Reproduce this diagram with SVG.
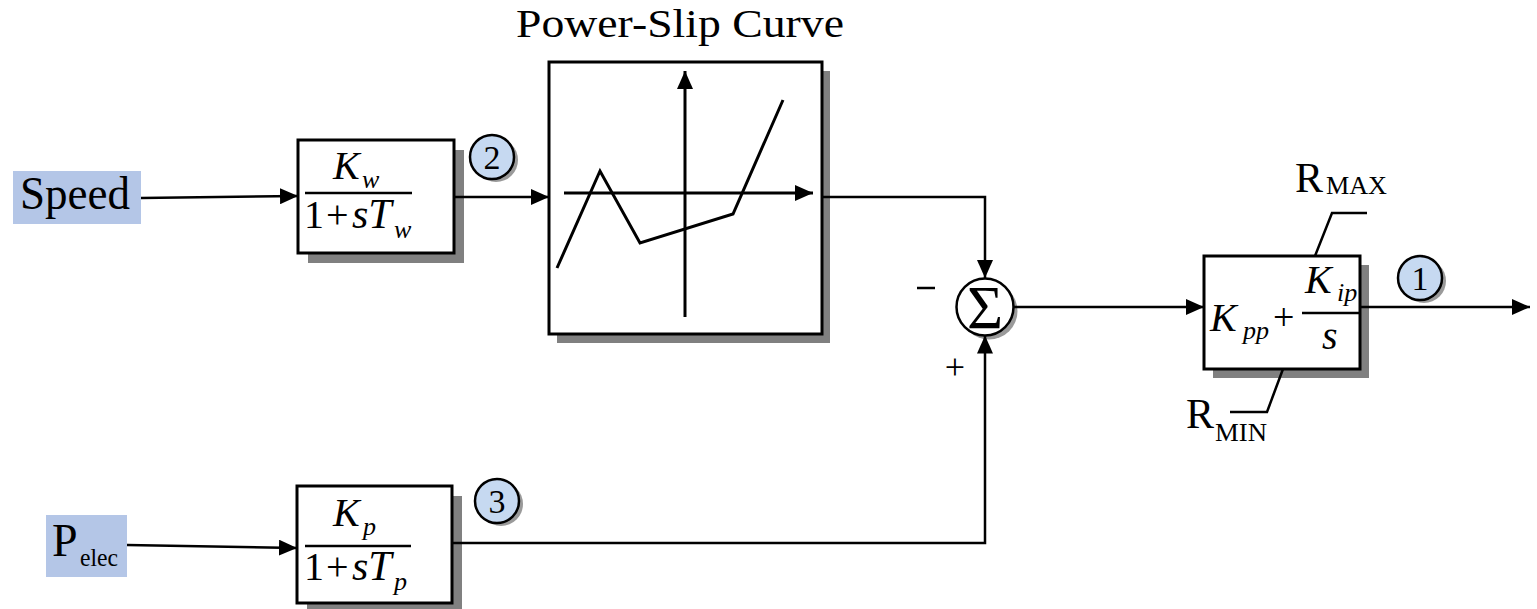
<svg xmlns="http://www.w3.org/2000/svg" width="1537" height="609" viewBox="0 0 1537 609">
<style>
.t{font-family:"Liberation Serif","Times New Roman",serif;fill:#000}
.i{font-style:italic}
.box{fill:#fff;stroke:#000;stroke-width:3}
.sh{fill:#808080}
.bsh{fill:#9a9a9a}
.in{fill:#b4c6e7}
.bub{fill:#c6d9f1;stroke:#000;stroke-width:2.5}
.ln{fill:none;stroke:#000;stroke-width:2.5}
.ax{fill:none;stroke:#000;stroke-width:3}
</style>
<defs>
<marker id="ah" markerUnits="userSpaceOnUse" markerWidth="18" markerHeight="16" refX="18" refY="8" orient="auto">
<path d="M0,0 L18,8 L0,16 z" fill="#000"/>
</marker>
</defs>
<rect width="1537" height="609" fill="#fff"/>

<g id="speed">
<rect class="in" x="13" y="171" width="128" height="53"/>
<text class="t" x="20" y="209" font-size="46" textLength="110" lengthAdjust="spacingAndGlyphs">Speed</text>
</g>

<g id="pelec">
<rect class="in" x="46" y="515" width="81" height="62"/>
<text class="t" x="52" y="556" font-size="46">P</text>
<text class="t" x="80" y="566" font-size="26" textLength="38" lengthAdjust="spacingAndGlyphs">elec</text>
</g>

<g id="kw">
<rect class="sh" x="308" y="150" width="156" height="113"/>
<rect class="box" x="298" y="140" width="156" height="113"/>
<line class="ln" x1="305" y1="193" x2="412" y2="193"/>
<text class="t i" x="333" y="179" font-size="40">K</text>
<text class="t i" x="362" y="188" font-size="26">w</text>
<text class="t" x="304" y="228" font-size="40">1</text>
<text class="t" x="326" y="228" font-size="40">+</text>
<text class="t i" x="352" y="228" font-size="42">sT</text>
<text class="t i" x="394" y="238" font-size="26">w</text>
</g>

<g id="kp">
<rect class="sh" x="307" y="496" width="155" height="117"/>
<rect class="box" x="297" y="486" width="155" height="117"/>
<line class="ln" x1="305" y1="546" x2="411" y2="546"/>
<text class="t i" x="333" y="526" font-size="40">K</text>
<text class="t i" x="363" y="535" font-size="26">p</text>
<text class="t" x="304" y="580" font-size="40">1</text>
<text class="t" x="326" y="580" font-size="40">+</text>
<text class="t i" x="352" y="580" font-size="42">sT</text>
<text class="t i" x="394" y="590" font-size="26">p</text>
</g>

<g id="bubble2">
<circle class="bsh" cx="496" cy="160" r="22"/>
<circle class="bub" cx="492" cy="157" r="22"/>
<text class="t" x="492" y="169" font-size="34" text-anchor="middle">2</text>
</g>

<g id="bubble3">
<circle class="bsh" cx="501" cy="504" r="22"/>
<circle class="bub" cx="497" cy="501" r="22"/>
<text class="t" x="497" y="513" font-size="34" text-anchor="middle">3</text>
</g>

<g id="powerslip">
<text class="t" x="516" y="37" font-size="39" textLength="328" lengthAdjust="spacingAndGlyphs">Power-Slip Curve</text>
<rect class="sh" x="557" y="71" width="273" height="272"/>
<rect class="box" x="549" y="62" width="273" height="272"/>
<line class="ax" x1="685" y1="317" x2="685" y2="71" marker-end="url(#ah)"/>
<line class="ax" x1="564" y1="193" x2="813" y2="193" marker-end="url(#ah)"/>
<polyline class="ax" points="557,268 600,171 640,243 733,214 783,100"/>
</g>

<g id="sum">
<circle class="bsh" cx="989" cy="311" r="28.5"/>
<circle cx="985" cy="307" r="28.5" fill="#fff" stroke="#000" stroke-width="2.5"/>
<text class="t" x="985" y="328" font-size="62" text-anchor="middle">Σ</text>
<line class="ln" x1="917" y1="288" x2="935" y2="288"/>
<text class="t" x="955" y="379" font-size="36" text-anchor="middle">+</text>
</g>

<g id="pi">
<rect class="sh" x="1213" y="265" width="156" height="113"/>
<rect class="box" x="1204" y="256" width="156" height="113"/>
<line class="ln" x1="1302" y1="313" x2="1360" y2="313"/>
<text class="t i" x="1210" y="331" font-size="40">K</text>
<text class="t i" x="1243" y="339" font-size="26">pp</text>
<text class="t" x="1273" y="330" font-size="38">+</text>
<text class="t i" x="1305" y="293" font-size="40">K</text>
<text class="t i" x="1337" y="301" font-size="26">ip</text>
<text class="t i" x="1322" y="349" font-size="40">s</text>
<polyline class="ln" points="1315,256 1332,213 1367,213"/>
<polyline class="ln" points="1283,369 1267,412 1230,412"/>
<text class="t" x="1295" y="192" font-size="42">R</text>
<text class="t" x="1326" y="194" font-size="26" textLength="61" lengthAdjust="spacingAndGlyphs">MAX</text>
<text class="t" x="1186" y="428" font-size="42">R</text>
<text class="t" x="1215" y="441" font-size="26" textLength="52" lengthAdjust="spacingAndGlyphs">MIN</text>
</g>

<g id="bubble1">
<circle class="bsh" cx="1424" cy="281" r="22"/>
<circle class="bub" cx="1420" cy="278" r="22"/>
<text class="t" x="1420" y="290" font-size="34" text-anchor="middle">1</text>
</g>

<g id="connectors">
<line class="ln" x1="141" y1="198" x2="298" y2="196" marker-end="url(#ah)"/>
<line class="ln" x1="454" y1="197" x2="549" y2="197" marker-end="url(#ah)"/>
<polyline class="ln" points="822,197 985,197 985,278" marker-end="url(#ah)"/>
<line class="ln" x1="127" y1="545" x2="297" y2="548" marker-end="url(#ah)"/>
<polyline class="ln" points="452,543 985,543 985,335.5" marker-end="url(#ah)"/>
<line class="ln" x1="1013.5" y1="307" x2="1204" y2="307" marker-end="url(#ah)"/>
<line class="ln" x1="1360" y1="307" x2="1530" y2="307" marker-end="url(#ah)"/>
</g>
</svg>
